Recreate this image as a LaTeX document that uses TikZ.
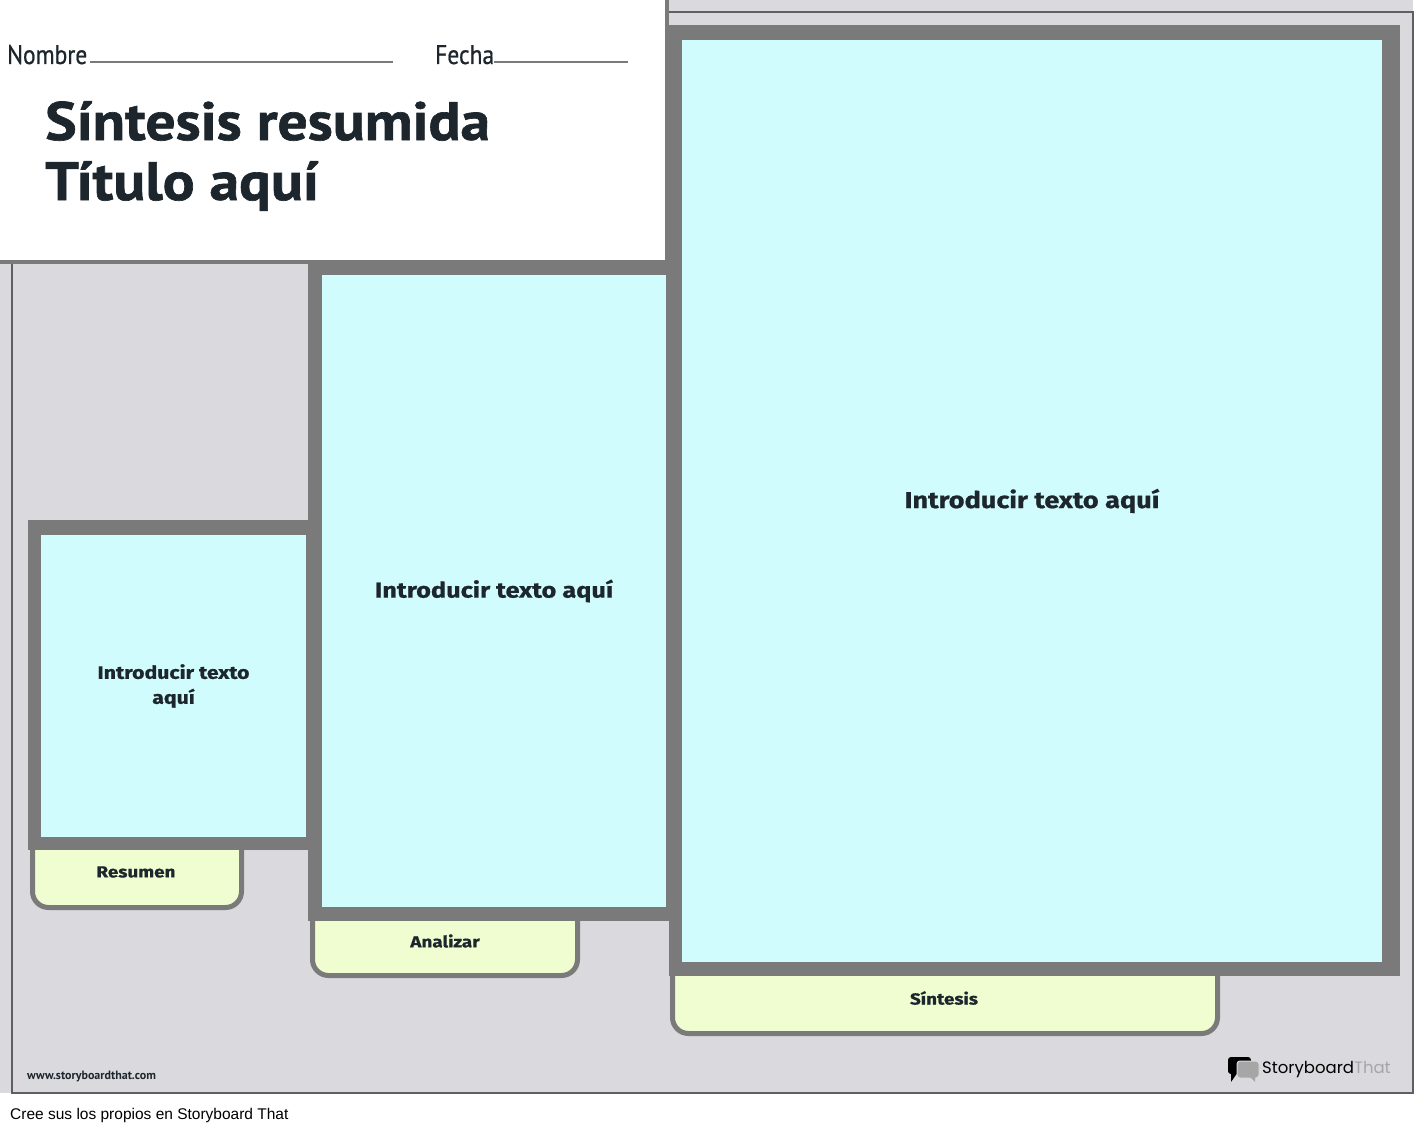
\documentclass[tikz,border=0pt]{standalone}
\usepackage{fontspec}
\setmainfont[FakeStretch=1.18,FakeBold=0.8]{Fira Sans}
\newfontfamily\namefont[FakeStretch=0.87,FakeBold=0.6]{PT Sans}
\newfontfamily\titlefont[FakeStretch=1.1,FakeBold=1.2]{PT Sans}
\newfontfamily\webfont{PT Sans}
\newfontfamily\arialfont{Liberation Sans}
\newfontfamily\logofont{Poppins}
\definecolor{panelgray}{HTML}{DADADE}
\definecolor{rimgray}{HTML}{5E5E64}
\definecolor{framegray}{HTML}{7A7A7A}
\definecolor{fieldcyan}{HTML}{D1FCFD}
\definecolor{tabgreen}{HTML}{F0FDD0}
\definecolor{inkdark}{HTML}{1C262C}
\definecolor{logogray}{HTML}{A6A6A6}
\begin{document}
\begin{tikzpicture}[x=1pt,y=-1pt,
    field/.style={fill=fieldcyan,inner sep=0pt,align=center,text=inkdark,font=\bfseries},
    tab/.style={fill=tabgreen,draw=framegray,line width=5pt,rounded corners=16pt},
    tablabel/.style={text=inkdark,font=\bfseries\fontsize{16}{20}\selectfont},
    rule/.style={draw=framegray,line width=1.6pt}]
  \useasboundingbox (0,0) rectangle (1425,1132);
  \fill[white] (0,0) rectangle (1425,1132);
  \fill[panelgray] (0,0) rectangle (1413,1093);
  \draw[rimgray,line width=1.5pt] (12,12) rectangle (1413,1093);
  % tabs under the frames
  \draw[tab] (32.5,820) rectangle (241.5,907.5);
  \draw[tab] (312.5,880) rectangle (577.5,975.5);
  \draw[tab] (672.5,940) rectangle (1217.5,1033.5);
  \node[tablabel] (resumen) at (136,872) {Resumen};
  \node[tablabel] (analizar) at (445,941) {Analizar};
  \node[tablabel] (sintesis) at (944,998) {Síntesis};
  % big frame
  \fill[framegray] (669,25) rectangle (1400,976);
  \node[field,minimum width=700pt,minimum height=922pt,
    font=\bfseries\fontsize{23}{28}\selectfont] (campo3) at (1032,501) {Introducir texto aquí};
  % header
  \fill[framegray] (0,0) rectangle (669,264);
  \fill[white] (0,0) rectangle (665,260);
  \node[anchor=base west,inner sep=0pt,text=inkdark,font=\namefont\fontsize{27}{30}\selectfont] (nombre) at (7,64) {Nombre};
  \node[anchor=base west,inner sep=0pt,text=inkdark,font=\namefont\fontsize{27}{30}\selectfont] (fecha) at (435,64) {Fecha};
  \draw[rule] (90,62) -- (393,62);
  \draw[rule] (494,62) -- (628,62);
  \node[anchor=base west,inner sep=0pt,text=inkdark,font=\titlefont\bfseries\fontsize{54}{60}\selectfont] (titulo) at (45,140) {Síntesis resumida};
  \node[anchor=base west,inner sep=0pt,text=inkdark,font=\titlefont\bfseries\fontsize{54}{60}\selectfont] (subtitulo) at (45,200) {Título aquí};
  % middle frame
  \fill[framegray] (308,262) rectangle (670,921);
  \node[field,minimum width=344pt,minimum height=632pt,
    font=\bfseries\fontsize{21.5}{26}\selectfont] (campo2) at (494,591) {Introducir texto aquí};
  % small frame
  \fill[framegray] (28,520) rectangle (322,850);
  \node[field,minimum width=265pt,minimum height=302pt,
    font=\bfseries\fontsize{18}{25}\selectfont] (campo1) at (173.5,686) {Introducir texto\\aquí};
  % footer
  \node[anchor=base west,inner sep=0pt,text=inkdark,font=\webfont\bfseries\fontsize{12}{14}\selectfont] (web) at (27,1079) {www.storyboardthat.com};
  \node[anchor=base west,inner sep=0pt,font=\arialfont\fontsize{15.5}{18}\selectfont] (cree) at (10,1119) {Cree sus los propios en Storyboard That};
  % logo
  \fill[black,rounded corners=3pt] (1228,1057) rectangle (1251,1074);
  \fill[black] (1231,1072) -- (1231,1082) -- (1238,1072) -- cycle;
  \filldraw[logogray,draw=panelgray,line width=1pt,rounded corners=3pt] (1237,1061) rectangle (1259,1078);
  \fill[logogray] (1250,1077) -- (1255,1082) -- (1255,1077) -- cycle;
  \node[anchor=west,inner sep=0pt,font=\logofont\fontsize{16.5}{20}\selectfont] (logo) at (1262,1070) {Storyboard\textcolor{logogray}{That}};
\end{tikzpicture}
\end{document}
